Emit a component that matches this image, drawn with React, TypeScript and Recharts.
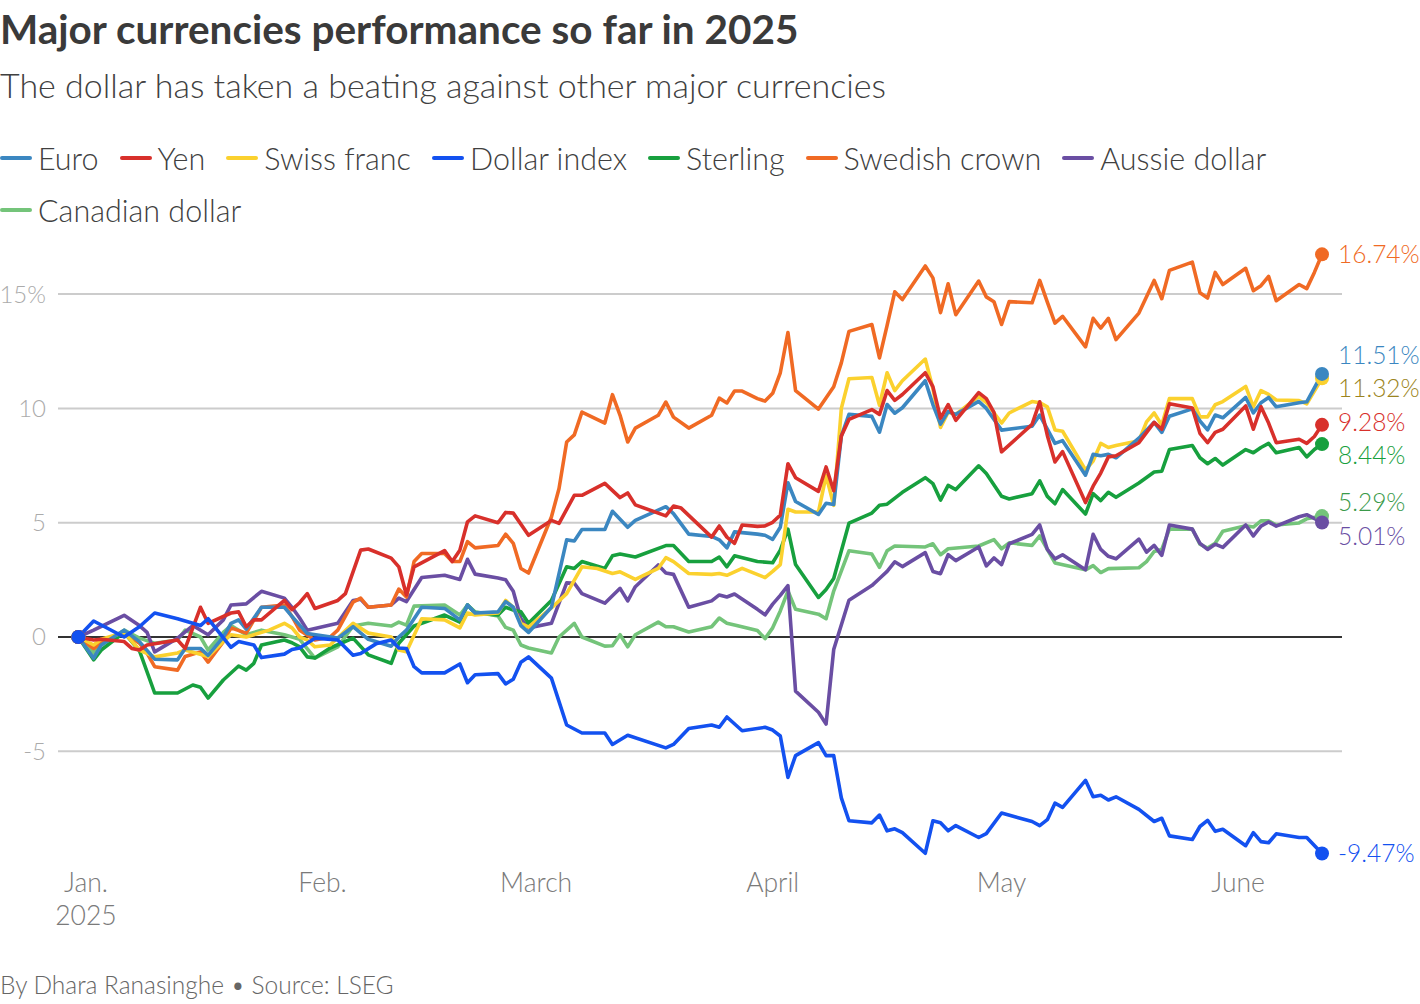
import React from 'react';
import { LineChart, Line, XAxis, YAxis, CartesianGrid, ReferenceLine, ReferenceDot } from 'recharts';

const TITLE = 'Major currencies performance so far in 2025';
const SUBTITLE = 'The dollar has taken a beating against other major currencies';
const SOURCE = 'By Dhara Ranasinghe \u2022 Source: LSEG';

// x = days since Jan 1, 2025 (Dec 31, 2024 = -1); y = % change since start of year
const MONTH_TICKS = [0, 31, 59, 90, 120, 151];
const MONTH_LABELS = ['Jan.', 'Feb.', 'March', 'April', 'May', 'June'];
const YEAR_LABEL = '2025';
const Y_TICKS = [-5, 0, 5, 10, 15];

const EURO = [[-1,0],[1,-0.93],[2,-0.35],[5,0.3],[7,-0.2],[9,-0.97],[12,-1.0],[13,-0.5],[15,-0.5],[16,-0.8],[18,0],[19,0.6],[20,0.75],[21,0.35],[23,1.3],[26,1.3],[27,0.9],[29,0.15],[33,-0.05],[35,0.45],[37,-0.1],[40,-0.4],[41,0],[42,0.3],[44,1.3],[47,1.25],[49,0.75],[50,1.4],[51,1.05],[54,1.1],[55,1.55],[56,1.3],[57,0.5],[58,0.2],[61,1.3],[63,4.25],[64,4.2],[65,4.7],[68,4.7],[69,5.5],[71,4.8],[72,5.1],[76,5.7],[77,5.4],[79,4.5],[82,4.4],[83,4.25],[84,3.9],[85,4.6],[88,4.5],[89,4.45],[90,4.27],[91,4.8],[92,6.75],[93,5.93],[96,5.36],[97,5.85],[98,5.8],[99,8.79],[100,9.74],[103,9.65],[104,8.96],[105,10.17],[106,9.79],[107,10.03],[110,11.21],[111,10.17],[112,9.31],[113,9.86],[114,9.74],[117,10.31],[118,10.0],[120,9.05],[124,9.22],[125,9.71],[126,9.09],[127,8.47],[128,8.59],[131,7.08],[132,7.99],[133,7.93],[134,7.99],[135,7.84],[138,8.7],[140,9.39],[141,8.95],[142,9.66],[145,9.98],[146,9.45],[147,9.06],[148,9.71],[149,9.59],[152,10.48],[153,9.8],[154,10.25],[155,10.48],[156,10.07],[159,10.25],[160,10.29],[162,11.51]];

const YEN = [[-1,0],[1,-0.13],[2,-0.1],[5,-0.2],[6,-0.5],[7,-0.57],[8,-0.35],[12,-0.13],[13,-0.5],[15,1.3],[16,0.6],[19,1.05],[20,1.1],[21,0.45],[22,0.75],[23,0.75],[26,1.6],[27,1.2],[28,1.5],[29,1.9],[30,1.25],[33,1.6],[34,1.9],[36,3.8],[37,3.85],[40,3.45],[41,3.07],[42,1.84],[43,3.07],[47,3.78],[48,3.3],[49,3.8],[50,5.04],[51,5.3],[54,5.0],[55,5.45],[56,5.42],[58,4.45],[61,5.1],[62,4.97],[64,6.2],[65,6.2],[68,6.72],[70,6.1],[71,6.3],[72,5.78],[76,5.3],[77,5.73],[78,5.64],[82,4.37],[83,4.86],[84,4.37],[85,4.1],[86,4.9],[88,4.84],[89,4.86],[90,5.02],[91,5.33],[92,7.58],[93,6.97],[96,6.37],[97,7.44],[98,6.4],[99,8.79],[100,9.52],[103,9.95],[104,9.74],[105,10.78],[106,10.35],[107,10.61],[110,11.56],[111,10.95],[112,9.57],[113,10.17],[114,9.48],[117,10.69],[118,10.43],[119,9.83],[120,8.1],[124,9.3],[125,10.29],[126,8.82],[127,7.66],[128,8.11],[131,5.88],[132,6.6],[133,7.17],[134,7.88],[135,7.93],[138,8.5],[140,9.39],[141,9.09],[142,10.2],[145,10.02],[146,8.91],[147,8.5],[148,8.95],[149,9.09],[152,10.11],[153,9.09],[154,10.07],[155,9.36],[156,8.5],[159,8.65],[160,8.47],[161,8.77],[162,9.28]];

const SWISS = [[-1,0],[1,-0.35],[2,-0.1],[5,0.2],[7,-0.57],[9,-0.87],[12,-0.7],[13,-0.57],[16,-0.85],[18,-0.2],[19,0.1],[21,0],[24,0.3],[26,0.6],[27,0.4],[28,0.0],[29,-0.13],[30,-0.43],[32,-0.35],[35,0.6],[37,0.17],[40,0],[41,-0.57],[42,-0.65],[44,0.8],[47,0.75],[49,0.4],[50,1.05],[51,0.96],[54,1.05],[55,1.6],[56,1.3],[57,0.6],[58,0.43],[61,1.27],[63,1.9],[65,3.07],[67,3.0],[69,2.78],[70,2.85],[72,2.52],[75,3.0],[76,3.47],[77,3.3],[79,2.78],[82,2.74],[83,2.78],[84,2.7],[86,3.0],[89,2.6],[90,2.87],[91,3.17],[92,5.59],[93,5.47],[96,5.47],[97,7.06],[98,5.76],[99,10.0],[100,11.3],[103,11.35],[104,10.14],[105,11.56],[106,10.78],[107,11.21],[110,12.16],[111,10.87],[112,9.17],[113,9.83],[114,9.74],[117,10.52],[118,10.26],[120,9.36],[121,9.8],[124,10.3],[125,10.25],[126,10.07],[127,9.06],[128,9.0],[131,7.31],[132,7.7],[133,8.47],[134,8.29],[135,8.38],[138,8.59],[139,9.41],[140,9.8],[141,9.27],[142,10.43],[145,10.43],[146,9.63],[147,9.63],[148,10.16],[149,10.3],[152,10.96],[153,10.07],[154,10.78],[155,10.61],[156,10.37],[159,10.34],[160,10.2],[162,11.32]];

const DOLLAR_INDEX = [[-1,0],[1,0.7],[5,0],[7,0.45],[9,1.05],[12,0.8],[15,0.5],[16,0.8],[19,-0.45],[20,-0.2],[22,-0.35],[23,-0.9],[26,-0.75],[27,-0.55],[28,-0.48],[30,-0.05],[33,-0.13],[35,-0.8],[36,-0.72],[38,-0.3],[40,-0.13],[41,-0.48],[42,-0.5],[43,-1.3],[44,-1.57],[47,-1.57],[49,-1.18],[50,-2.0],[51,-1.65],[54,-1.6],[55,-2.05],[56,-1.85],[57,-1.1],[58,-0.87],[61,-1.8],[63,-3.85],[65,-4.2],[68,-4.2],[69,-4.7],[71,-4.3],[76,-4.85],[77,-4.7],[79,-4.0],[82,-3.85],[83,-3.95],[84,-3.5],[86,-4.1],[89,-3.95],[90,-4.07],[91,-4.33],[92,-6.14],[93,-5.19],[96,-4.62],[97,-5.19],[98,-5.19],[99,-7.04],[100,-8.04],[103,-8.13],[104,-7.79],[105,-8.48],[106,-8.39],[107,-8.56],[110,-9.46],[111,-8.04],[112,-8.13],[113,-8.48],[114,-8.25],[117,-8.77],[118,-8.6],[120,-7.7],[124,-8.07],[125,-8.25],[126,-7.99],[127,-7.27],[128,-7.45],[131,-6.27],[132,-6.99],[133,-6.92],[134,-7.13],[135,-6.99],[138,-7.54],[140,-8.07],[141,-7.93],[142,-8.7],[145,-8.86],[146,-8.29],[147,-8.02],[148,-8.5],[149,-8.41],[152,-9.13],[153,-8.56],[154,-8.95],[155,-9.0],[156,-8.61],[159,-8.77],[160,-8.77],[162,-9.47]];

const STERLING = [[-1,0],[1,-1.0],[2,-0.57],[5,0.2],[7,-0.6],[9,-2.45],[12,-2.45],[14,-2.1],[15,-2.2],[16,-2.67],[18,-1.88],[20,-1.27],[21,-1.45],[22,-1.15],[23,-0.35],[26,-0.13],[27,-0.25],[28,-0.43],[29,-0.87],[30,-0.92],[32,-0.48],[35,-0.05],[37,-0.78],[40,-1.15],[41,-0.27],[43,0.48],[47,0.96],[49,0.65],[50,1.4],[51,1.05],[54,0.96],[55,1.3],[56,1.18],[57,1.1],[58,0.6],[61,1.6],[63,3.07],[64,3.0],[65,3.3],[68,3.0],[69,3.55],[70,3.63],[72,3.5],[76,4.0],[77,4.0],[79,3.3],[82,3.3],[83,3.5],[84,3.07],[85,3.55],[88,3.3],[90,3.25],[91,3.8],[92,4.72],[93,3.17],[96,1.73],[97,2.08],[98,2.56],[100,4.98],[103,5.42],[104,5.76],[105,5.81],[107,6.33],[110,6.97],[111,6.71],[112,5.99],[113,6.63],[114,6.45],[117,7.49],[118,7.15],[120,6.16],[121,6.04],[124,6.27],[125,6.83],[126,6.15],[127,5.83],[128,6.45],[131,5.38],[132,6.27],[133,5.97],[134,6.33],[135,6.11],[138,6.74],[140,7.22],[141,7.25],[142,8.2],[145,8.38],[146,7.84],[147,7.58],[148,7.81],[149,7.52],[152,8.2],[153,8.06],[154,8.29],[155,8.47],[156,8.06],[159,8.29],[160,7.88],[161,8.2],[162,8.44]];

const SWEDISH_CROWN = [[-1,0],[1,-0.5],[2,-0.25],[5,0.2],[7,-0.27],[8,-0.7],[9,-1.3],[12,-1.45],[13,-0.85],[15,-0.65],[16,-1.1],[18,-0.2],[19,0.4],[21,0.17],[23,1.3],[26,1.4],[27,0.9],[28,0.3],[30,-0.13],[32,0],[33,0.3],[35,1.53],[36,1.7],[37,1.3],[40,1.4],[41,2.1],[42,1.75],[43,3.3],[44,3.65],[47,3.65],[48,3.3],[49,3.3],[50,4.17],[51,3.9],[54,4.0],[55,4.5],[56,4.1],[57,3.0],[58,2.8],[61,5.25],[62,6.5],[63,8.53],[64,8.84],[65,9.84],[68,9.36],[69,10.6],[70,9.7],[71,8.53],[72,9.14],[75,9.7],[76,10.28],[77,9.62],[79,9.14],[82,9.7],[83,10.45],[84,10.24],[85,10.76],[86,10.76],[88,10.43],[89,10.32],[90,10.66],[91,11.56],[92,13.32],[93,10.78],[96,9.97],[98,10.95],[99,11.99],[100,13.37],[103,13.67],[104,12.21],[105,13.63],[106,15.1],[107,14.76],[110,16.23],[111,15.71],[112,14.19],[113,15.45],[114,14.1],[117,15.57],[118,14.88],[119,14.67],[120,13.67],[121,14.67],[124,14.62],[125,15.6],[126,14.65],[127,13.73],[128,14.03],[131,12.69],[132,13.94],[133,13.51],[134,13.94],[135,13.01],[138,14.17],[140,15.6],[141,14.8],[142,16.04],[145,16.4],[146,15.06],[147,14.83],[148,15.95],[149,15.42],[152,16.13],[153,15.15],[154,15.37],[155,15.78],[156,14.71],[159,15.42],[160,15.24],[161,15.95],[162,16.74]];

const AUSSIE = [[-1,0],[1,0.3],[5,0.95],[7,0.5],[8,0.2],[9,-0.65],[12,-0.05],[14,0.5],[16,0.1],[18,0.75],[19,1.4],[21,1.45],[23,2.0],[26,1.7],[27,1.3],[28,0.83],[29,0.3],[33,0.6],[35,1.6],[36,1.65],[37,1.3],[40,1.4],[41,1.7],[42,1.55],[44,2.6],[47,2.7],[49,2.52],[50,3.4],[51,2.75],[54,2.58],[55,2.5],[56,2.0],[57,0.8],[58,0.4],[61,0.6],[63,2.37],[64,2.35],[65,1.9],[68,1.48],[70,2.13],[71,1.58],[72,2.2],[75,3.15],[76,2.8],[77,2.74],[79,1.3],[82,1.58],[83,1.84],[84,1.75],[85,1.88],[88,1.21],[89,0.97],[90,1.44],[91,1.82],[92,2.25],[93,-2.37],[96,-3.29],[97,-3.81],[98,-0.55],[100,1.61],[103,2.25],[104,2.56],[105,2.87],[106,3.29],[107,3.08],[110,3.69],[111,2.87],[112,2.77],[113,3.6],[114,3.34],[117,3.94],[118,3.11],[119,3.46],[120,3.17],[121,4.08],[124,4.49],[125,4.9],[126,3.83],[127,3.42],[128,3.6],[131,2.94],[132,4.49],[133,3.83],[134,3.53],[135,3.42],[138,4.28],[139,3.71],[140,4.01],[141,3.57],[142,4.9],[145,4.72],[146,4.1],[147,3.83],[148,4.06],[149,3.92],[152,4.9],[153,4.42],[154,4.85],[155,5.03],[156,4.85],[159,5.26],[160,5.35],[162,5.01]];

const CANADIAN = [[-1,0],[1,-0.7],[2,-0.35],[5,0.3],[7,-0.05],[9,-0.27],[12,-0.13],[13,0.3],[15,0],[16,-0.57],[18,0.2],[19,0.5],[21,0.1],[23,0.3],[26,0.1],[28,-0.1],[30,-0.92],[33,-0.43],[35,0.48],[37,0.6],[40,0.48],[41,0.65],[42,0.52],[43,1.35],[47,1.4],[49,0.96],[50,1.4],[51,1.1],[54,0.92],[55,0.42],[56,0.3],[57,-0.35],[58,-0.48],[61,-0.7],[62,0],[64,0.6],[65,0],[68,-0.4],[69,-0.38],[70,0.1],[71,-0.43],[72,0.1],[75,0.65],[76,0.45],[77,0.45],[79,0.22],[82,0.45],[83,0.83],[84,0.6],[85,0.52],[88,0.28],[89,-0.07],[90,0.4],[91,1.14],[92,2.01],[93,1.21],[96,1.0],[97,0.8],[98,2.01],[100,3.77],[103,3.63],[104,3.05],[105,3.77],[106,3.98],[110,3.94],[111,4.08],[112,3.6],[113,3.86],[117,3.98],[119,4.26],[120,3.86],[121,4.12],[124,4.01],[125,4.42],[126,3.83],[127,3.24],[131,2.94],[132,3.12],[133,2.82],[134,2.99],[138,3.03],[139,3.3],[140,3.74],[141,3.83],[142,4.72],[145,4.72],[146,4.06],[147,3.89],[148,4.1],[149,4.63],[152,4.87],[153,4.81],[154,5.08],[155,5.08],[156,4.9],[159,4.99],[160,5.17],[162,5.29]];

type Series = { name: string; color: string; labelColor: string; pts: number[][] };

// legend order
const SERIES: Series[] = [
  { name: 'Euro', color: '#3b87c1', labelColor: '#3b87c1', pts: EURO },
  { name: 'Yen', color: '#d8302b', labelColor: '#d8302b', pts: YEN },
  { name: 'Swiss franc', color: '#fbd12e', labelColor: '#9b8420', pts: SWISS },
  { name: 'Dollar index', color: '#1351f0', labelColor: '#1351f0', pts: DOLLAR_INDEX },
  { name: 'Sterling', color: '#17a03e', labelColor: '#17a03e', pts: STERLING },
  { name: 'Swedish crown', color: '#f06a24', labelColor: '#f06a24', pts: SWEDISH_CROWN },
  { name: 'Aussie dollar', color: '#6a4ea3', labelColor: '#6a4ea3', pts: AUSSIE },
  { name: 'Canadian dollar', color: '#74c47a', labelColor: '#3a9a4a', pts: CANADIAN },
];
// drawing order (bottom -> top)
const DRAW_ORDER = ['Canadian dollar', 'Aussie dollar', 'Swedish crown', 'Sterling', 'Swiss franc', 'Euro', 'Yen', 'Dollar index'];

const FONT = "Lato, 'Noto Sans', sans-serif";
const X_DOMAIN: [number, number] = [-3.67, 164.62];
const Y_DOMAIN: [number, number] = [-10, 17];
const LABEL_GAP = 1.46; // minimum label spacing, in value units

// simple label dodging in value space
function dodgeLabels(items: { key: string; v: number }[]) {
  const sorted = [...items].sort((a, b) => b.v - a.v);
  let clusters = sorted.map((it) => ({ members: [it], center: it.v }));
  let changed = true;
  while (changed) {
    changed = false;
    for (let i = 0; i < clusters.length - 1; i++) {
      const a = clusters[i];
      const b = clusters[i + 1];
      const aBottom = a.center - ((a.members.length - 1) * LABEL_GAP) / 2;
      const bTop = b.center + ((b.members.length - 1) * LABEL_GAP) / 2;
      if (aBottom - bTop < LABEL_GAP) {
        const members = [...a.members, ...b.members];
        const center = members.reduce((s, m) => s + m.v, 0) / members.length;
        clusters.splice(i, 2, { members, center });
        changed = true;
        break;
      }
    }
  }
  const out: Record<string, number> = {};
  clusters.forEach((c) => {
    const n = c.members.length;
    c.members.forEach((m, j) => {
      out[m.key] = c.center + ((n - 1) / 2 - j) * LABEL_GAP;
    });
  });
  return out;
}

const MonthTick = (props: any) => {
  const { x, y, payload } = props;
  const i = MONTH_TICKS.indexOf(payload.value);
  return (
    <g>
      <text x={x} y={y + 26} textAnchor="middle" fontSize={26.5} fill="#7a7a7a" fontFamily={FONT} fontWeight={300}>
        {MONTH_LABELS[i]}
      </text>
      {i === 0 && (
        <text x={x} y={y + 59} textAnchor="middle" fontSize={26.5} fill="#7a7a7a" fontFamily={FONT} fontWeight={300}>
          {YEAR_LABEL}
        </text>
      )}
    </g>
  );
};

const ValueTick = (props: any) => {
  const { x, y, payload } = props;
  const v = payload.value;
  return (
    <text x={x - 12} y={y} dy="0.35em" textAnchor="end" fontSize={24} fill="#ababab" fontFamily={FONT} fontWeight={300}>
      {v === 15 ? `${v}%` : `${v}`}
    </text>
  );
};

export default function App() {
  const byName: Record<string, Series> = {};
  SERIES.forEach((s) => (byName[s.name] = s));
  const drawn = DRAW_ORDER.map((n) => byName[n]);
  const lastOf = (s: Series) => s.pts[s.pts.length - 1];
  const dodged = dodgeLabels(SERIES.map((s) => ({ key: s.name, v: lastOf(s)[1] })));

  return (
    <div style={{ position: 'absolute', left: 0, top: 0, width: 1420, height: 1004, background: '#fff', fontFamily: FONT, overflow: 'hidden' }}>
      <LineChart width={1420} height={1004} margin={{ top: 248.4, right: 78, bottom: 0, left: 0 }}>
        <CartesianGrid vertical={false} horizontalValues={Y_TICKS} stroke="#cccccc" strokeWidth={2} />
        <XAxis
          type="number"
          dataKey="d"
          domain={X_DOMAIN}
          ticks={MONTH_TICKS}
          tick={<MonthTick />}
          tickLine={false}
          axisLine={false}
          tickSize={0}
          tickMargin={0}
          height={138.4}
          allowDataOverflow
          interval={0}
        />
        <YAxis
          type="number"
          domain={Y_DOMAIN}
          ticks={Y_TICKS}
          tick={<ValueTick />}
          tickLine={false}
          axisLine={false}
          tickSize={0}
          tickMargin={0}
          width={58}
          allowDataOverflow
          interval={0}
        />
        <ReferenceLine y={0} stroke="#333333" strokeWidth={2} ifOverflow="visible" />
        {drawn.map((s) => (
          <Line
            key={s.name}
            data={s.pts.map(([d, v]) => ({ d, v }))}
            dataKey="v"
            name={s.name}
            type="linear"
            stroke={s.color}
            strokeWidth={3.6}
            strokeLinejoin="round"
            strokeLinecap="round"
            dot={false}
            activeDot={false}
            isAnimationActive={false}
          />
        ))}
        {drawn.map((s) => (
          <ReferenceDot key={`start-${s.name}`} x={s.pts[0][0]} y={s.pts[0][1]} r={7} fill={s.color} stroke="none" ifOverflow="visible" />
        ))}
        {drawn.map((s) => (
          <ReferenceDot key={`end-${s.name}`} x={lastOf(s)[0]} y={lastOf(s)[1]} r={7} fill={s.color} stroke="none" ifOverflow="visible" />
        ))}
        {SERIES.map((s) => (
          <ReferenceDot
            key={`label-${s.name}`}
            x={lastOf(s)[0]}
            y={dodged[s.name]}
            r={0}
            ifOverflow="visible"
            shape={(p: any) => (
              <text x={p.cx + 16} y={p.cy} dy="0.35em" fontSize={24.5} fill={s.labelColor} fontFamily={FONT} fontWeight={300}>
                {`${lastOf(s)[1].toFixed(2)}%`}
              </text>
            )}
          />
        ))}
      </LineChart>

      <div style={{ position: 'absolute', left: 0, top: 9, fontSize: 40.5, lineHeight: '40.5px', fontWeight: 700, color: '#3a3a3a', whiteSpace: 'nowrap' }}>
        {TITLE}
      </div>
      <div style={{ position: 'absolute', left: 0, top: 68, fontSize: 34, lineHeight: '34px', fontWeight: 300, color: '#404040', whiteSpace: 'nowrap' }}>
        {SUBTITLE}
      </div>
      <div style={{ position: 'absolute', left: 0, top: 132, width: 1420, display: 'flex', flexWrap: 'wrap', columnGap: 21 }}>
        {SERIES.map((s) => (
          <div key={s.name} style={{ display: 'flex', alignItems: 'center', height: 52 }}>
            <span style={{ display: 'inline-block', width: 32, height: 4, borderRadius: 2, background: s.color, marginRight: 6 }} />
            <span style={{ fontSize: 30.5, color: '#404040', fontWeight: 300, whiteSpace: 'nowrap' }}>{s.name}</span>
          </div>
        ))}
      </div>
      <div style={{ position: 'absolute', left: 0, top: 973, fontSize: 24.5, lineHeight: '24.5px', fontWeight: 300, color: '#666666', whiteSpace: 'nowrap' }}>
        {SOURCE}
      </div>
    </div>
  );
}
